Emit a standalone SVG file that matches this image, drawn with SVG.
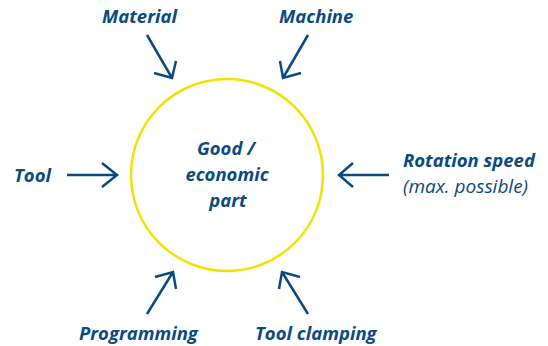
<svg xmlns="http://www.w3.org/2000/svg" width="548" height="346" viewBox="0 0 548 346">
<style>
.t{font-family:"Open Sans","Liberation Sans",sans-serif;font-style:italic;font-weight:700;font-size:18.5px;fill:#0b4a80}
.n{font-weight:400;font-size:19px}
.a{fill:none;stroke:#0b4a80;stroke-width:2.5;stroke-linecap:butt;stroke-linejoin:miter}
</style>
<rect width="548" height="346" fill="#fff"/>
<g id="center">
<circle cx="227" cy="175" r="96" fill="none" stroke="#f5e100" stroke-width="2.5"/>
<text class="t" text-anchor="middle" x="226" y="155">Good /</text>
<text class="t" text-anchor="middle" x="227" y="181">economic</text>
<text class="t" text-anchor="middle" x="228" y="207">part</text>
</g>
<g id="material"><text class="t" x="102" y="23">Material</text></g>
<g id="machine"><text class="t" x="279" y="23">Machine</text></g>
<g id="tool"><text class="t" x="14" y="182">Tool</text></g>
<g id="rotation"><text class="t" x="403" y="167">Rotation speed</text><text class="t n" x="403" y="193">(max. possible)</text></g>
<g id="programming"><text class="t" x="79" y="340">Programming</text></g>
<g id="clamping"><text class="t" x="255" y="340">Tool clamping</text></g>
<g id="connectors">
<path class="a" d="M147 35 L172 78 M154 73 L172 78 L176 61"/>
<path class="a" d="M308 35 L283 78 M280 61 L283 78 L301 73"/>
<path class="a" d="M67 175 L117 175 M102 163 L117 175 L102 187"/>
<path class="a" d="M389 175 L339 175 M353 163 L339 175 L353 187"/>
<path class="a" d="M147 314 L173 272 M155 277 L173 272 L176 289"/>
<path class="a" d="M308 314 L282 272 M279 289 L282 272 L300 277"/>
</g>
</svg>
